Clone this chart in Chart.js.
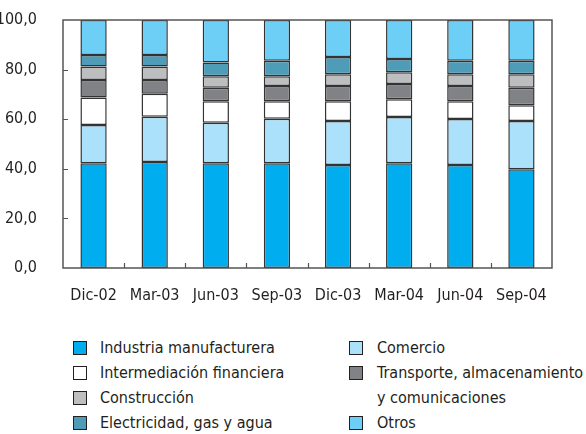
<!DOCTYPE html>
<html>
<head>
<meta charset="utf-8">
<script src="https://cdn.jsdelivr.net/npm/chart.js@4"></script>
<style>
  body { margin: 0; background: #fff; font-family: "Liberation Sans Narrow", "DejaVu Sans Condensed", sans-serif; color: #231f20; }
  #wrap { position: relative; width: 586px; height: 434px; }
  #chart { position: absolute; left: 0; top: 0; }
  .item { position: absolute; font-size: 16px; line-height: 20px; white-space: nowrap; }
  .sw { position: absolute; width: 12px; height: 12px; border: 1px solid #231f20; top: 3px; }
</style>
</head>
<body>
<div id="wrap">
  <canvas id="chart" width="586" height="320"></canvas>
  <div id="legend"></div>
</div>
<script>
// quarters
const periods = ["Dic-02", "Mar-03", "Jun-03", "Sep-03", "Dic-03", "Mar-04", "Jun-04", "Sep-04"];

// share of each sector (%), bottom to top
const industria     = [42.2, 42.7, 42.2, 42.2, 41.5, 42.2, 41.5, 39.8];
const comercio      = [15.5, 18.3, 16.4, 18.0, 17.8, 18.7, 18.6, 19.5];
const intermediacion = [11.0, 9.3, 8.6, 7.0, 7.9, 7.1, 7.1, 6.3];
const transporte    = [7.1, 5.5, 5.5, 6.2, 6.2, 6.2, 6.2, 7.1];
const construccion  = [5.5, 5.5, 4.6, 3.9, 4.7, 4.7, 4.7, 5.4];
const electricidad  = [4.6, 4.6, 5.6, 6.3, 7.0, 5.4, 5.5, 5.5];
const otros         = [14.1, 14.1, 17.1, 16.4, 14.9, 15.7, 16.4, 16.4];

const yTicks = [0, 20, 40, 60, 80, 100];

const series = [
    { label: "Industria manufacturera", data: industria, color: "#00aeef" },
    { label: "Comercio", data: comercio, color: "#abe1fa" },
    { label: "Intermediación financiera", data: intermediacion, color: "#ffffff" },
    { label: "Transporte, almacenamiento", data: transporte, color: "#808285" },
    { label: "Construcción", data: construccion, color: "#bcbec0" },
    { label: "Electricidad, gas y agua", data: electricidad, color: "#4f9cb9" },
    { label: "Otros", data: otros, color: "#6dcff6" },
];

// frame around the plot and inward ticks
const framePlugin = {
    id: "frame",
    afterDraw(chart) {
        const { ctx, chartArea: a, scales } = chart;
        ctx.save();
        ctx.strokeStyle = "#555";
        ctx.lineWidth = 1.5;
        ctx.strokeRect(a.left, a.top, a.right - a.left, a.bottom - a.top);
        ctx.lineWidth = 1.2;
        ctx.beginPath();
        yTicks.slice(1, -1).forEach(v => {
            const y = Math.round(scales.y.getPixelForValue(v)) + 0.5;
            ctx.moveTo(a.left, y);
            ctx.lineTo(a.left + 5, y);
        });
        for (let i = 0; i < periods.length - 1; i++) {
            const x = Math.round((scales.x.getPixelForValue(i) + scales.x.getPixelForValue(i + 1)) / 2) + 0.5;
            ctx.moveTo(x, a.bottom);
            ctx.lineTo(x, a.bottom - 5);
        }
        ctx.stroke();
        ctx.restore();
    }
};

const font = { family: "'Liberation Sans Narrow', 'DejaVu Sans Condensed', sans-serif", size: 16 };

new Chart(document.getElementById("chart"), {
    type: "bar",
    data: {
        labels: periods,
        datasets: series.map(s => ({
            label: s.label,
            data: s.data,
            backgroundColor: s.color,
            borderColor: "#333",
            borderWidth: 1.5,
            borderSkipped: false,
            categoryPercentage: 1,
            barPercentage: 0.43,
        })),
    },
    options: {
        responsive: false,
        animation: false,
        layout: { padding: { left: 0, top: 20, right: 34, bottom: 0 } },
        plugins: { legend: { display: false }, tooltip: { enabled: false } },
        scales: {
            x: {
                stacked: true,
                grid: { display: false, drawTicks: false },
                border: { display: false },
                ticks: { color: "#231f20", font: font, padding: 18 },
                afterFit(s) { s.height = 52; },
            },
            y: {
                stacked: true,
                min: 0,
                max: 100,
                grid: { display: false, drawTicks: false },
                border: { display: false },
                ticks: {
                    stepSize: 20,
                    color: "#231f20",
                    font: font,
                    padding: 26,
                    callback: v => v.toFixed(1).replace(".", ","),
                },
                afterFit(s) {
                    s.width = 63;
                    s.paddingTop = 0;
                    s.paddingBottom = 0;
                },
            },
        },
    },
    plugins: [framePlugin],
});

// legend: two columns, row by row
const legendPos = [
    [73, 348], [349, 348],
    [73, 373], [349, 373],
    [73, 398],
    [73, 423], [349, 423],
];
const legend = document.getElementById("legend");
series.forEach((s, i) => {
    const [x, y] = legendPos[i];
    const el = document.createElement("div");
    el.className = "item";
    el.style.left = x + "px";
    el.style.top = (y - 10) + "px";
    el.style.paddingLeft = (x === 73 ? 27 : 28) + "px";
    el.innerHTML = '<span class="sw" style="left:0;background:' + s.color + '"></span>' + s.label;
    legend.appendChild(el);
});
const extra = document.createElement("div");
extra.className = "item";
extra.style.left = "377px";
extra.style.top = (398 - 10) + "px";
extra.textContent = "y comunicaciones";
legend.appendChild(extra);
</script>
</body>
</html>
